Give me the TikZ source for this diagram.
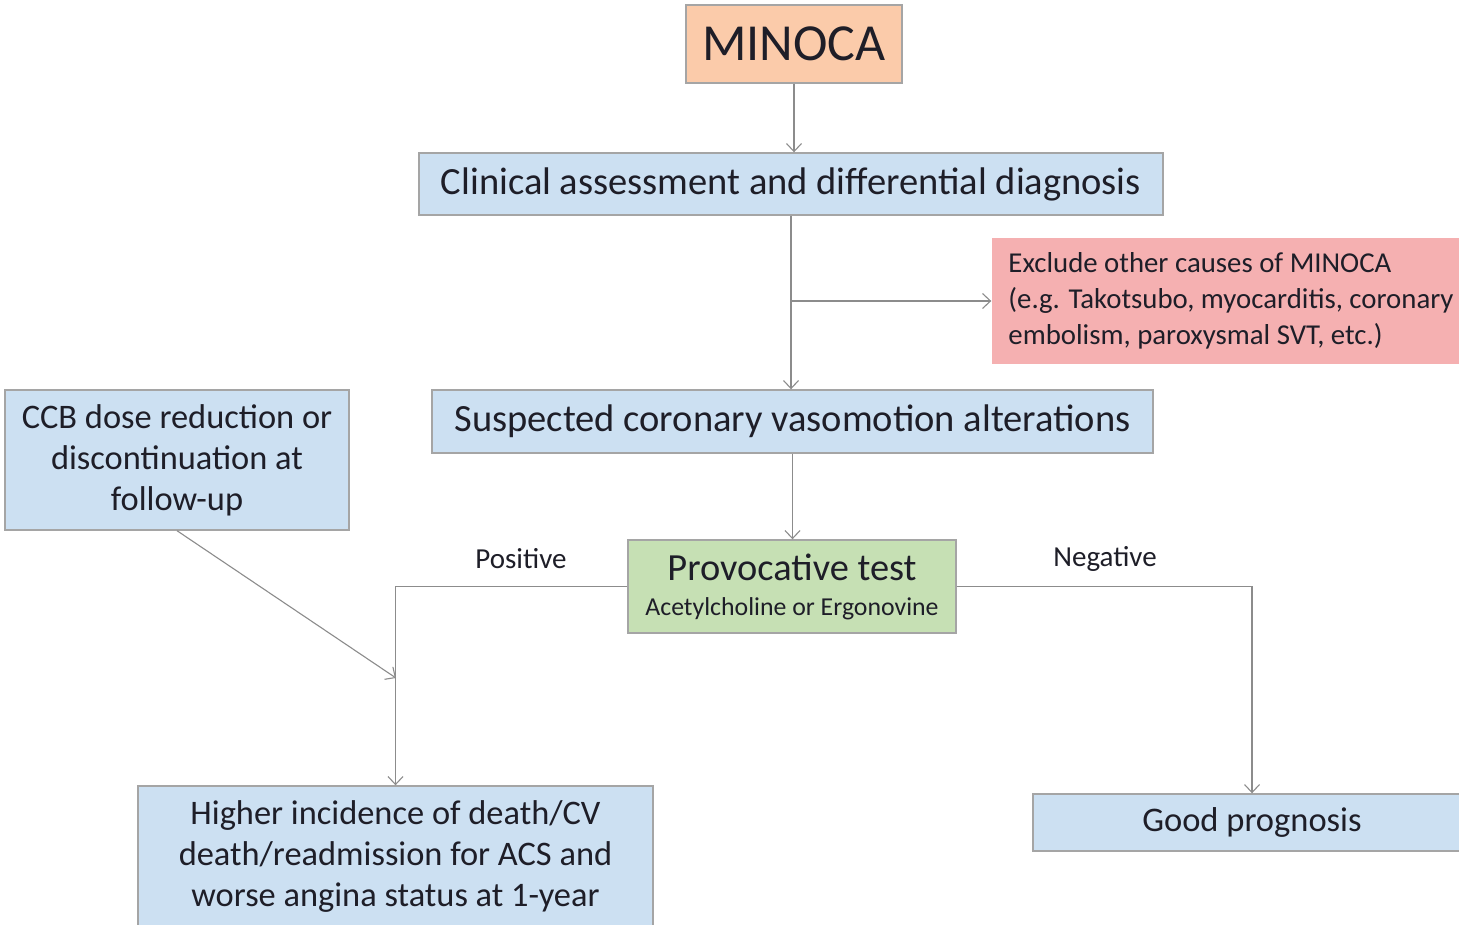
\documentclass[tikz,border=0pt]{standalone}
\usepackage{fontspec}
\setmainfont{Carlito}
\usetikzlibrary{arrows.meta,calc}
\definecolor{peach}{RGB}{251,203,170}
\definecolor{lblue}{RGB}{204,224,242}
\definecolor{pinkbox}{RGB}{245,176,177}
\definecolor{lgreen}{RGB}{198,224,180}
\definecolor{edge}{RGB}{165,165,165}
\definecolor{conn}{RGB}{140,140,140}
\definecolor{ink}{RGB}{30,30,40}
\begin{document}
\begin{tikzpicture}[x=1pt,y=-1pt,
  box/.style={draw=edge, line width=1.4pt, rectangle, inner sep=0pt, align=center, text=ink},
  arr/.style={draw=conn, line width=1.1pt, -{Straight Barb[length=8pt,width=15pt,line width=1.1pt]}},
  lab/.style={text=ink, font=\fontsize{29}{34}\selectfont, inner sep=0pt}]
\useasboundingbox (0,0) rectangle (1459,924);
\clip (0,0) rectangle (1459,924);
\fill[white] (0,0) rectangle (1459,924);
\node[box, fill=peach, minimum width=216, minimum height=78, font=\fontsize{52}{60}\selectfont] (minoca) at (794,44) {MINOCA};
\node[box, fill=lblue, minimum width=744, minimum height=62, font=\fontsize{38.5}{44}\selectfont] (clinical) at (791,184) {Clinical assessment and differential diagnosis};
\node[box, fill=pinkbox, draw=none, minimum width=478, minimum height=126, align=left, font=\fontsize{28.8}{36}\selectfont] (exclude) at (1231,301) {Exclude other causes of MINOCA\\(e.g. Takotsubo, myocarditis, coronary\\embolism, paroxysmal SVT, etc.)};
\node[box, fill=lblue, minimum width=721, minimum height=63, font=\fontsize{38.5}{44}\selectfont] (suspected) at (792.5,421.5) {Suspected coronary vasomotion alterations};
\node[box, fill=lblue, minimum width=344, minimum height=140, font=\fontsize{34.4}{41}\selectfont] (ccb) at (177,460) {CCB dose reduction or\\discontinuation at\\follow-up};
\node[box, fill=lgreen, minimum width=328, minimum height=93, font=\fontsize{38.4}{35}\selectfont] (prov) at (792,586.5) {Provocative test\\{\fontsize{25.8}{35}\selectfont Acetylcholine or Ergonovine}};
\node[box, fill=lblue, minimum width=515, minimum height=142, font=\fontsize{34.4}{41}\selectfont] (higher) at (395.5,857) {Higher incidence of death/CV\\death/readmission for ACS and\\worse angina status at 1-year};
\node[box, fill=lblue, minimum width=438, minimum height=57, font=\fontsize{34.5}{40}\selectfont] (good) at (1252,822.5) {Good prognosis};
\node[lab] (pos) at (521,559) {Positive};
\node[lab] (neg) at (1105,559) {Negative};
\coordinate (br) at (clinical.south |- exclude.west);
\coordinate (ccbend) at (396,678);
\draw[arr] (minoca.south) -- (minoca.south |- clinical.north);
\draw[arr] (clinical.south) -- (clinical.south |- suspected.north);
\draw[arr] (br) -- (exclude.west);
\draw[arr] (suspected.south) -- (suspected.south |- prov.north);
\draw[arr] (prov.west) -| (higher.north);
\draw[arr] (prov.east) -| (good.north);
\draw[arr] (ccb.south) -- (ccbend);
\end{tikzpicture}
\end{document}
